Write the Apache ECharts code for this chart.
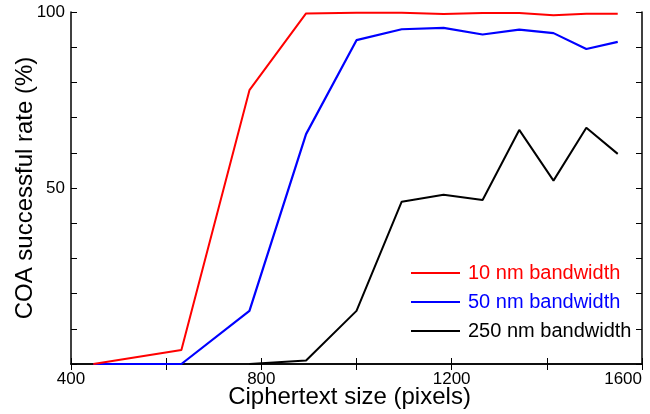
<!DOCTYPE html>
<html>
<head>
<meta charset="utf-8">
<script src="https://cdn.jsdelivr.net/npm/echarts@6/dist/echarts.min.js"></script>
<style>
  html, body { margin: 0; padding: 0; background: #fff; }
  #chart { width: 650px; height: 414px; }
</style>
</head>
<body>
<div id="chart"></div>
<script>
// ciphertext sizes (pixels)
var sizes = [447, 632, 775, 894, 1000, 1095, 1183, 1265, 1342, 1414, 1483, 1549];
// COA successful rate (%)
var bw10 = [0, 4, 77.8, 99.6, 99.8, 99.8, 99.4, 99.7, 99.7, 99.1, 99.5, 99.5];
var bw50 = [0, 0, 15.1, 65.3, 92.0, 95.1, 95.5, 93.6, 95.0, 94.0, 89.5, 91.5];
var bw250 = ['-', '-', 0, 1.0, 15.1, 46.1, 48.1, 46.6, 66.5, 52.1, 67.1, 59.7];

var seriesNames = ['10 nm bandwidth', '50 nm bandwidth', '250 nm bandwidth'];
var seriesColors = ['#ff0000', '#0000ff', '#000000'];
var xLabels = [400, 800, 1200, 1600];
var yLabels = [50, 100];

function pairs(vals) {
    var out = [];
    for (var i = 0; i < sizes.length; i++) {
        out.push([sizes[i], vals[i]]);
    }
    return out;
}

var font = 'Liberation Sans, Arial, sans-serif';

function axisBase(extra) {
    var a = {
        type: 'value',
        splitLine: { show: false },
        axisLine: { show: true, lineStyle: { color: '#000', width: 1.5 } },
        axisTick: { show: true, inside: true, length: 6, lineStyle: { color: '#000', width: 1 } },
        axisLabel: { show: false }
    };
    for (var k in extra) a[k] = extra[k];
    return a;
}

var chart = echarts.init(document.getElementById('chart'));

var option = {
    animation: false,
    backgroundColor: '#fff',
    grid: { left: 71, right: 8, top: 12, bottom: 50, containLabel: false, outerBoundsMode: 'none' },
    legend: {
        orient: 'vertical',
        left: 410,
        top: 263,
        padding: 0,
        itemWidth: 49,
        itemHeight: 14,
        itemGap: 9,
        itemStyle: { opacity: 0 },
        lineStyle: { width: 2 },
        textStyle: { fontFamily: font, fontSize: 20, padding: [0, 0, 0, 3] },
        data: seriesNames.map(function (n, i) {
            return { name: n, textStyle: { color: seriesColors[i] } };
        })
    },
    xAxis: [
        axisBase({
            min: 400, max: 1600, interval: 200,
            position: 'bottom',
            name: 'Ciphertext size (pixels)',
            nameLocation: 'middle',
            nameGap: 21,
            nameMoveOverlap: false,
            nameTextStyle: { fontFamily: font, fontSize: 24, color: '#000', padding: [0, 14, 0, 0] },
            axisLabel: {
                show: true, color: '#000', fontFamily: font, fontSize: 17, margin: 7,
                alignMinLabel: 'center', alignMaxLabel: 'right',
                formatter: function (v) { return xLabels.indexOf(v) >= 0 ? String(v) : ''; }
            }
        }),
        axisBase({ min: 400, max: 1600, interval: 200, position: 'top' })
    ],
    yAxis: [
        axisBase({
            min: 0, max: 100, interval: 10,
            position: 'left',
            name: 'COA successful rate (%)',
            nameLocation: 'middle',
            nameGap: 34,
            nameMoveOverlap: false,
            nameTextStyle: { fontFamily: font, fontSize: 24, color: '#000' },
            axisLabel: {
                show: true, color: '#000', fontFamily: font, fontSize: 17, margin: 6,
                formatter: function (v) { return yLabels.indexOf(v) >= 0 ? String(v) : ''; }
            }
        }),
        axisBase({ min: 0, max: 100, interval: 10, position: 'right' })
    ],
    series: [
        { name: seriesNames[1], type: 'line', data: pairs(bw50), symbol: 'none',
          lineStyle: { color: seriesColors[1], width: 2.2 }, itemStyle: { color: seriesColors[1] } },
        { name: seriesNames[2], type: 'line', data: pairs(bw250), symbol: 'none',
          lineStyle: { color: seriesColors[2], width: 2 }, itemStyle: { color: seriesColors[2] } },
        { name: seriesNames[0], type: 'line', data: pairs(bw10), symbol: 'none',
          lineStyle: { color: seriesColors[0], width: 2 }, itemStyle: { color: seriesColors[0] } }
    ]
};
chart.setOption(option);
</script>
</body>
</html>
